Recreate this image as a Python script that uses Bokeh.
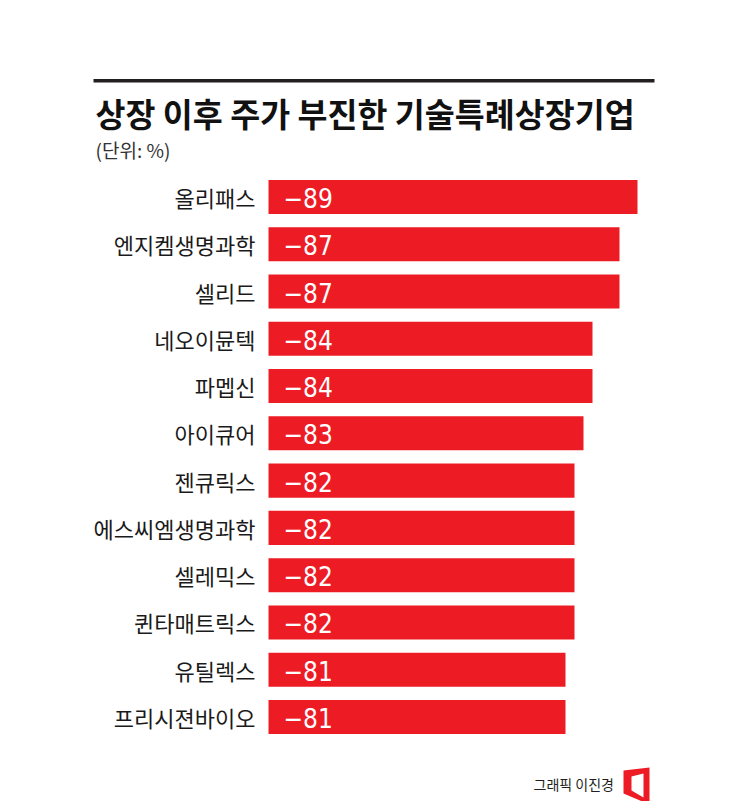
from bokeh.plotting import figure
from bokeh.models import Range1d, Label, BoxAnnotation, PolyAnnotation, ColumnDataSource
from bokeh.core.properties import value
from bokeh.embed import file_html
from bokeh.resources import INLINE

# ---- data ----
companies = ["올리패스", "엔지켐생명과학", "셀리드", "네오이뮨텍", "파멥신", "아이큐어",
             "젠큐릭스", "에스씨엠생명과학", "셀레믹스", "퀸타매트릭스", "유틸렉스", "프리시젼바이오"]
changes = [-89, -87, -87, -84, -84, -83, -82, -82, -82, -82, -81, -81]
title_text = "상장 이후 주가 부진한 기술특례상장기업"
unit_text = "(단위: %)"
credit_text = "그래픽 이진경"

# ---- layout constants ----
W, H = 729, 801
BASE = -48          # value at the bars' left edge (truncated axis)
PX_PER_UNIT = 9.0
BAR_LEFT_PX = 268
ROW_PX = 47.27
ROW0_PX = 196.5     # canvas y (from top) of first row centre

x_range = Range1d(start=BASE + BAR_LEFT_PX / PX_PER_UNIT,
                  end=BASE - (W - BAR_LEFT_PX) / PX_PER_UNIT)
y_range = Range1d(start=(H - ROW0_PX) / ROW_PX, end=-ROW0_PX / ROW_PX)

rows = list(range(len(companies)))
src = ColumnDataSource(dict(
    row=rows,
    company=companies,
    change=changes,
    base=[BASE] * len(changes),
    label=["\u2212" + str(abs(v)) for v in changes],
))

p = figure(width=W, height=H, x_range=x_range, y_range=y_range,
           output_backend="svg", toolbar_location=None, min_border=0,
           x_axis_location=None, y_axis_location=None)
p.grid.visible = False
p.outline_line_color = None
p.background_fill_color = "white"
p.border_fill_color = "white"

p.hbar(y="row", left="base", right="change", height=0.72, source=src,
       fill_color="#ED1C24", line_color=None)

p.text(x="base", y="row", text="company", source=src, x_offset=-13,
       text_align="right", text_baseline="middle",
       text_font=value("Noto Sans CJK KR"), text_font_size="22px",
       text_color="#1a1a1a")

p.text(x="base", y="row", text="label", source=src, x_offset=15, y_offset=1,
       text_align="left", text_baseline="middle",
       text_font=value("DejaVu Sans Condensed"), text_font_size="26px",
       text_color="white")

def sy(img_y):
    return H - img_y

def sx(img_x):
    return img_x

# top rule
p.add_layout(BoxAnnotation(left=sx(93), right=sx(654), top=sy(78.5), bottom=sy(82),
                           left_units="screen", right_units="screen",
                           top_units="screen", bottom_units="screen",
                           fill_color="#231f20", fill_alpha=1, line_color=None))

p.add_layout(Label(x=sx(95), y=sy(112), x_units="screen", y_units="screen",
                   text=title_text, text_font="Noto Sans CJK KR", text_font_style="bold",
                   text_font_size="32.6px", text_color="#111111",
                   text_baseline="alphabetic"))

p.add_layout(Label(x=sx(95), y=sy(149), x_units="screen", y_units="screen",
                   text=unit_text, text_font="Noto Sans CJK KR",
                   text_font_size="19px", text_color="#333333",
                   text_baseline="alphabetic"))

p.add_layout(Label(x=sx(533), y=sy(783), x_units="screen", y_units="screen",
                   text=credit_text, text_font="Noto Sans CJK KR",
                   text_font_size="14px", text_color="#231f20",
                   text_baseline="alphabetic"))

# credit icon
p.add_layout(PolyAnnotation(xs=[sx(623), sx(649), sx(649), sx(623)],
                            ys=[sy(770), sy(767), sy(804), sy(793)],
                            xs_units="screen", ys_units="screen",
                            fill_color="#ED1C24", fill_alpha=1, line_color=None))
p.add_layout(PolyAnnotation(xs=[sx(631), sx(643), sx(643), sx(631)],
                            ys=[sy(776), sy(773), sy(797), sy(790)],
                            xs_units="screen", ys_units="screen",
                            fill_color="white", fill_alpha=1, line_color=None))

open("out.html", "w").write(file_html(p, INLINE))
